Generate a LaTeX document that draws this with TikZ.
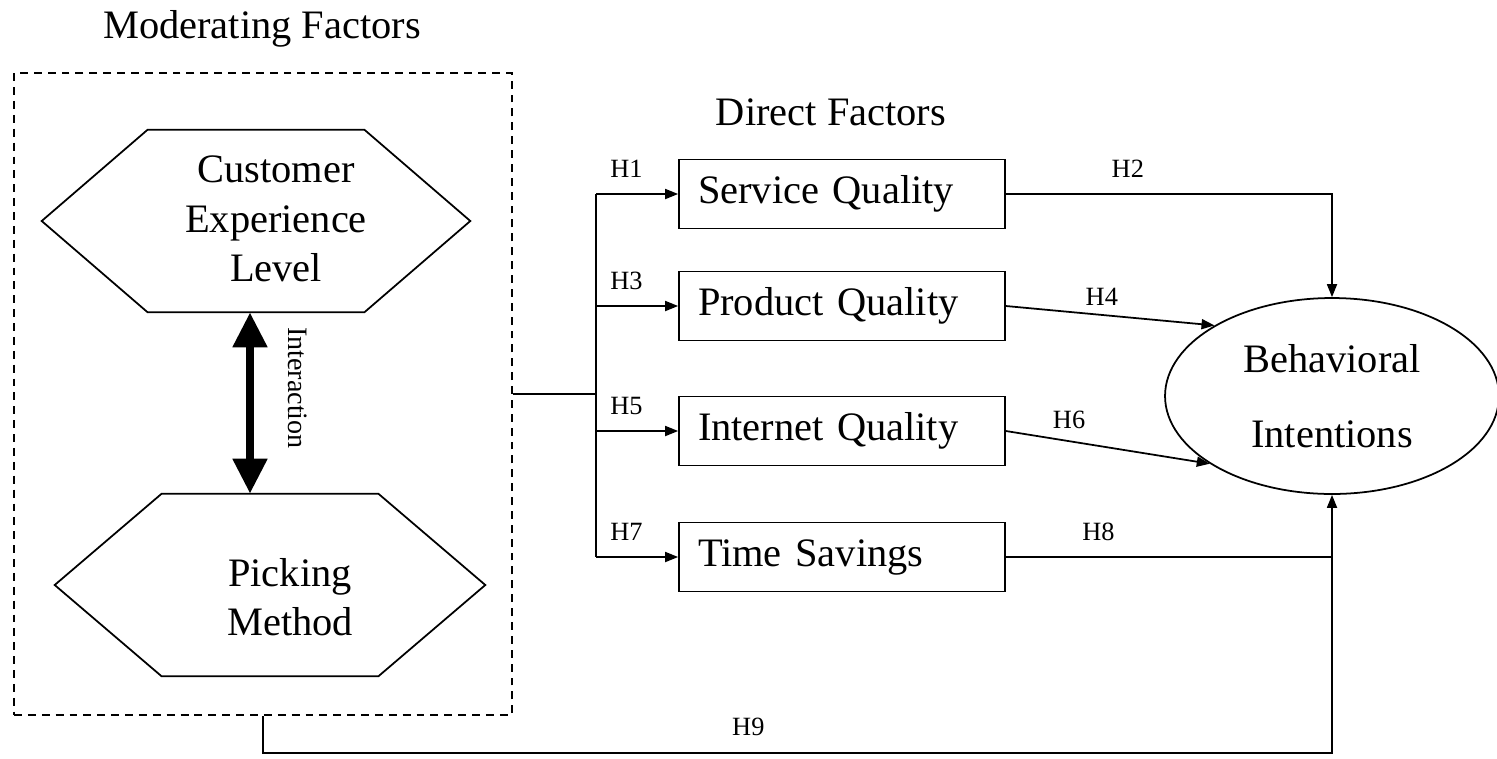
\documentclass[tikz,border=0pt]{standalone}
\usepackage{fontspec}
\setmainfont{Liberation Serif}
\usetikzlibrary{positioning,shapes.geometric,arrows.meta}

\tikzset{
  bigtxt/.style={font=\fontsize{23}{28}\selectfont},
  hexbox/.style={minimum width=4.32cm, minimum height=3.64cm, inner sep=0pt},
  factor/.style={draw, line width=1pt, minimum height=1.38cm, text width=5.76cm,
    inner xsep=0.38cm, align=left, bigtxt},
  hl/.style={font=\fontsize{15}{17}\selectfont, inner sep=1pt},
  arr/.style={line width=1pt, -{Triangle[length=0.26cm,width=0.2cm]}},
}

\begin{document}
\begin{tikzpicture}[x=0.02cm, y=-0.02cm]
    \useasboundingbox (0,0) rectangle (1497,758);

    % Moderating factors
    \node[bigtxt] (modt) at (262,29) {Moderating Factors};
    \node[draw, line width=1pt, dash pattern=on 4.5pt off 3.4pt,
          minimum width=9.96cm, minimum height=12.84cm] (mod) at (263,394) {};

    \node[hexbox] (cel) at (256,221) {};
    \draw[line width=1pt] (cel.north west) -- (cel.north east) -- ([xshift=2.12cm]cel.east)
        -- (cel.south east) -- (cel.south west) -- ([xshift=-2.12cm]cel.west) -- cycle;
    \node[bigtxt, align=center] (celt) at ([xshift=0.4cm, yshift=0.04cm]cel.center) {Customer\\Experience\\Level};

    \node[hexbox] (pm) at (270,585) {};
    \draw[line width=1pt] (pm.north west) -- (pm.north east) -- ([xshift=2.14cm]pm.east)
        -- (pm.south east) -- (pm.south west) -- ([xshift=-2.14cm]pm.west) -- cycle;
    \node[bigtxt, align=center] (pmt) at ([xshift=0.4cm, yshift=-0.24cm]pm.center) {Picking\\Method};

    % Interaction
    \draw[line width=0.16cm, {Triangle[length=0.7cm,width=0.66cm]}-{Triangle[length=0.7cm,width=0.66cm]}]
        ([xshift=-0.12cm]cel.south) -- ([xshift=-0.12cm]cel.south |- pm.north);
    \node[font=\fontsize{16}{18}\selectfont, rotate=-90] (ilab) at (298,388) {Interaction};

    % Direct factors
    \node[bigtxt] (dirt) at (831,112) {Direct Factors};
    \node[factor] (sq) at (842,194) {Service Quality};
    \node[factor] (pq) at (842,306) {Product Quality};
    \node[factor] (iq) at (842,431) {Internet Quality};
    \node[factor] (ts) at (842,557) {Time Savings};

    % Outcome
    \node[draw, ellipse, line width=1pt, minimum width=6.68cm, minimum height=3.92cm,
          inner sep=0pt, bigtxt, align=center] (bi) at (1332,396) {Behavioral\\[15pt]Intentions};

    % Paths H1, H3, H5, H7
    \coordinate (jn) at (596,0);
    \draw[line width=1pt] (mod.east) -- (mod.east -| jn);
    \draw[line width=1pt] (jn |- sq.west) -- (jn |- ts.west);
    \foreach \f/\h in {sq/H1, pq/H3, iq/H5, ts/H7}
        \draw[arr] (jn |- \f.west) -- node[hl, above=0.28cm, pos=0.37] {\h} (\f.west);

    % Paths H2, H4, H6, H8, H9
    \draw[arr] (sq.east) -| node[hl, above=0.28cm, pos=0.187] {H2} (bi.north);
    \draw[arr] (pq.east) -- node[hl, above=0.14cm, pos=0.46] {H4} (bi.149);
    \draw[arr] (iq.east) -- node[hl, above=0.2cm, pos=0.31] {H6} (bi.209);
    \draw[line width=1pt] (ts.east) -- node[hl, above=0.28cm, pos=0.284] {H8} (ts.east -| bi.south);
    \draw[arr] (mod.south) -- ++(0,37) -| node[hl, above=0.28cm, pos=0.227] {H9} (bi.south);
\end{tikzpicture}
\end{document}
